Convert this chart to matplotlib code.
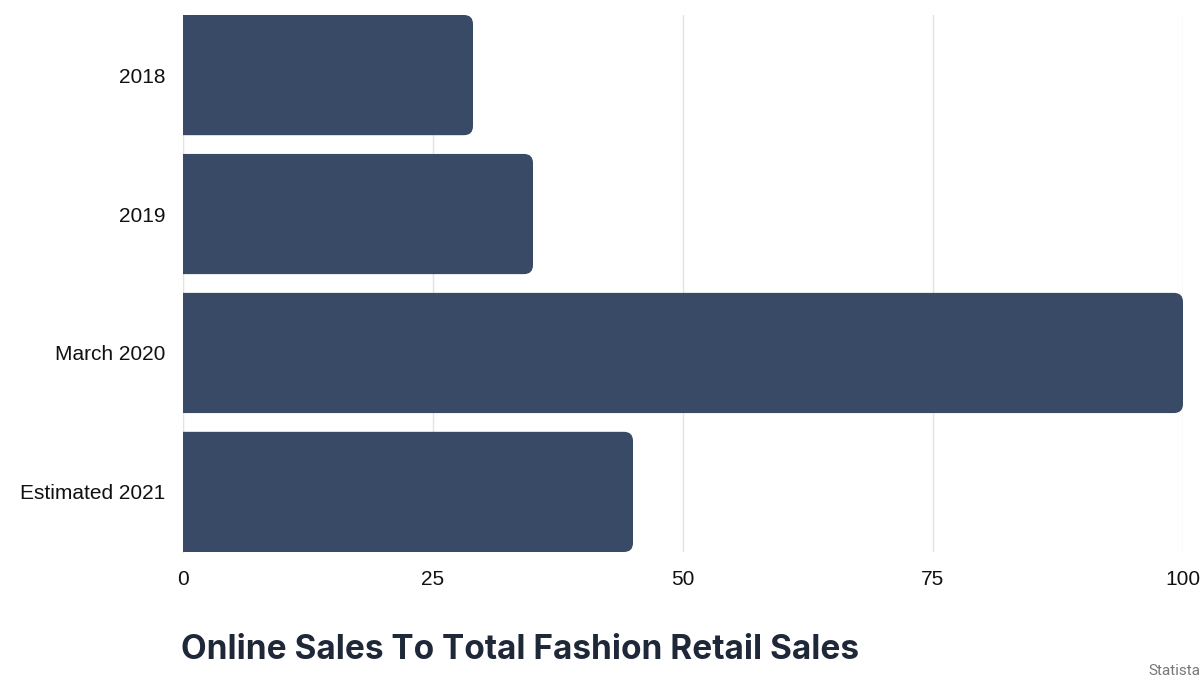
import matplotlib.pyplot as plt
from matplotlib.patches import FancyBboxPatch

categories = ['2018', '2019', 'March 2020', 'Estimated 2021']
values = [29, 35, 100, 45]
ticks = [0, 25, 50, 75, 100]

bar_color = '#394a67'
bar_h = 0.865

fig = plt.figure(figsize=(12.02, 6.79), dpi=100)
ax = fig.add_axes([183 / 1202, 1 - 552 / 679, 1000 / 1202, 537 / 679])

bars = ax.barh(categories, values, height=bar_h, color=bar_color)
ax.set_ylim(len(categories) - 1 + bar_h / 2, -bar_h / 2)
ax.set_xlim(0, 100)

# swap plain bars for bars rounded on the right end
for b in bars:
    x, y = b.get_x(), b.get_y()
    w, h = b.get_width(), b.get_height()
    b.set_visible(False)
    p = FancyBboxPatch((x - 3, y), w + 3, h,
                       boxstyle='round,pad=0,rounding_size=0.9',
                       mutation_aspect=0.072, fc=bar_color, ec='none',
                       zorder=3, clip_on=True)
    ax.add_patch(p)

ax.set_xticks(ticks)
ax.grid(axis='x', color='#e3e3e3', lw=1, zorder=0)
ax.set_axisbelow(True)
for s in ['top', 'right', 'bottom']:
    ax.spines[s].set_visible(False)
ax.spines['left'].set_color('#e3e3e3')
ax.tick_params(length=0, labelsize=15, colors='#111111', labelfontfamily='Liberation Sans')
ax.tick_params(axis='x', pad=13)
ax.tick_params(axis='y', pad=12.5)

fig.text(181 / 1202, 1 - 650 / 679, 'Online Sales To Total Fashion Retail Sales',
         fontsize=24, fontweight='bold', family='Inter', color='#1e2838',
         va='center', ha='left')
fig.text(1200 / 1202, 1 - 671 / 679, 'Statista', fontsize=11, family='Roboto',
         color='#777777', ha='right', va='center')

fig.savefig('out.png', dpi=100)
